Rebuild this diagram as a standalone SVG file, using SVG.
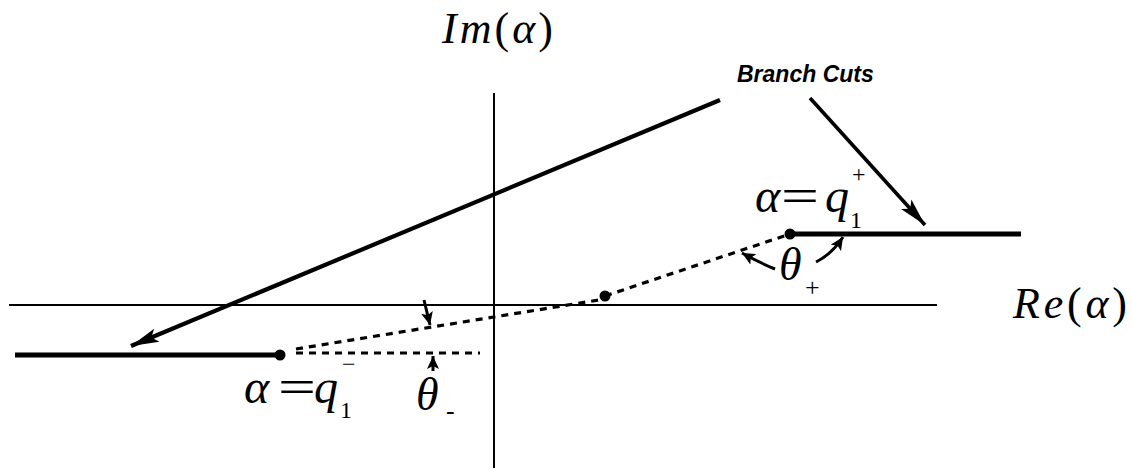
<svg xmlns="http://www.w3.org/2000/svg" width="1132" height="471" viewBox="0 0 1132 471">
<style>
.ax{stroke:#000;stroke-width:2;fill:none}
.cut{stroke:#000;stroke-width:5;fill:none}
.dash{stroke:#000;stroke-width:3.2;fill:none;stroke-dasharray:7,6}
.thin{stroke:#000;stroke-width:3;fill:none}
.lead{stroke:#000;stroke-width:4.2;fill:none}
.lead2{stroke:#000;stroke-width:3.6;fill:none}
text{fill:#000}
.lab{font-family:'Liberation Sans',Arial,sans-serif;font-weight:bold;font-style:italic;font-size:23px}
</style>
<defs>
<marker id="big" markerUnits="userSpaceOnUse" markerWidth="30" markerHeight="16" refX="28" refY="8" orient="auto">
<path d="M0,1 L28,8 L0,15 L6,8 z" fill="#000"/>
</marker>
<marker id="small" markerUnits="userSpaceOnUse" markerWidth="14" markerHeight="12" refX="13" refY="6" orient="auto">
<path d="M0,0 L13,6 L0,12 L3,6 z" fill="#000"/>
</marker>
</defs>
<g id="axes">
<line class="ax" x1="494" y1="93" x2="494" y2="468"/>
<line class="ax" x1="9" y1="305" x2="937" y2="305"/>
</g>
<g id="cut-minus">
<line class="cut" x1="15" y1="355" x2="280" y2="355"/>
<circle cx="280" cy="355" r="5.5" fill="#000"/>
</g>
<g id="cut-plus">
<line class="cut" x1="790" y1="234" x2="1021" y2="234"/>
<circle cx="790" cy="234" r="5.5" fill="#000"/>
</g>
<g id="mid-point">
<circle cx="605" cy="296" r="5.5" fill="#000"/>
</g>
<g id="connectors">
<line class="lead" x1="720" y1="100" x2="131" y2="346" marker-end="url(#big)"/>
<line class="lead2" x1="810" y1="98" x2="925" y2="225" marker-end="url(#big)"/>
<line class="dash" x1="296" y1="349" x2="605" y2="299"/>
<line class="dash" x1="605" y1="296" x2="790" y2="234"/>
<line class="dash" x1="296" y1="353" x2="480" y2="353"/>
<line class="thin" x1="424" y1="300" x2="430" y2="325" marker-end="url(#small)"/>
<line class="thin" x1="433" y1="371" x2="433" y2="356" marker-end="url(#small)"/>
<path class="thin" d="M775,269 Q758,262 742,253" marker-end="url(#small)"/>
<path class="thin" d="M816,262 Q832,254 843,237" marker-end="url(#small)"/>
</g>
<g id="label-im" font-family="'Liberation Serif','DejaVu Serif',serif">
<text x="442" y="43" font-size="44" textLength="111" lengthAdjust="spacing"><tspan font-style="italic">Im</tspan>(<tspan font-style="italic">α</tspan>)</text>
</g>
<g id="label-re" font-family="'Liberation Serif','DejaVu Serif',serif">
<text x="1013" y="318" font-size="44" textLength="114" lengthAdjust="spacing"><tspan font-style="italic">Re</tspan>(<tspan font-style="italic">α</tspan>)</text>
</g>
<g id="label-branch">
<text class="lab" x="737" y="82">Branch Cuts</text>
</g>
<g id="label-qplus" font-family="'Liberation Serif','DejaVu Serif',serif">
<text x="755" y="212" font-size="48" font-style="italic">α</text>
<text x="781" y="212" font-size="48" textLength="38" lengthAdjust="spacingAndGlyphs">=</text>
<text x="825" y="212" font-size="48" font-style="italic">q</text>
<text x="852" y="182" font-size="24">+</text>
<text x="850" y="228" font-size="24">1</text>
</g>
<g id="label-qminus" font-family="'Liberation Serif','DejaVu Serif',serif">
<text x="244" y="403" font-size="48" font-style="italic">α</text>
<text x="278" y="403" font-size="48" textLength="38" lengthAdjust="spacingAndGlyphs">=</text>
<text x="314" y="403" font-size="48" font-style="italic">q</text>
<text x="342" y="372" font-size="24">−</text>
<text x="340" y="418" font-size="24">1</text>
</g>
<g id="label-thminus" font-family="'Liberation Serif','DejaVu Serif',serif">
<text x="416" y="410" font-size="46" font-style="italic">θ</text>
<text x="446" y="419" font-size="26">-</text>
</g>
<g id="label-thplus" font-family="'Liberation Serif','DejaVu Serif',serif">
<text x="779" y="280" font-size="46" font-style="italic">θ</text>
<text x="805" y="296" font-size="26">+</text>
</g>
</svg>
